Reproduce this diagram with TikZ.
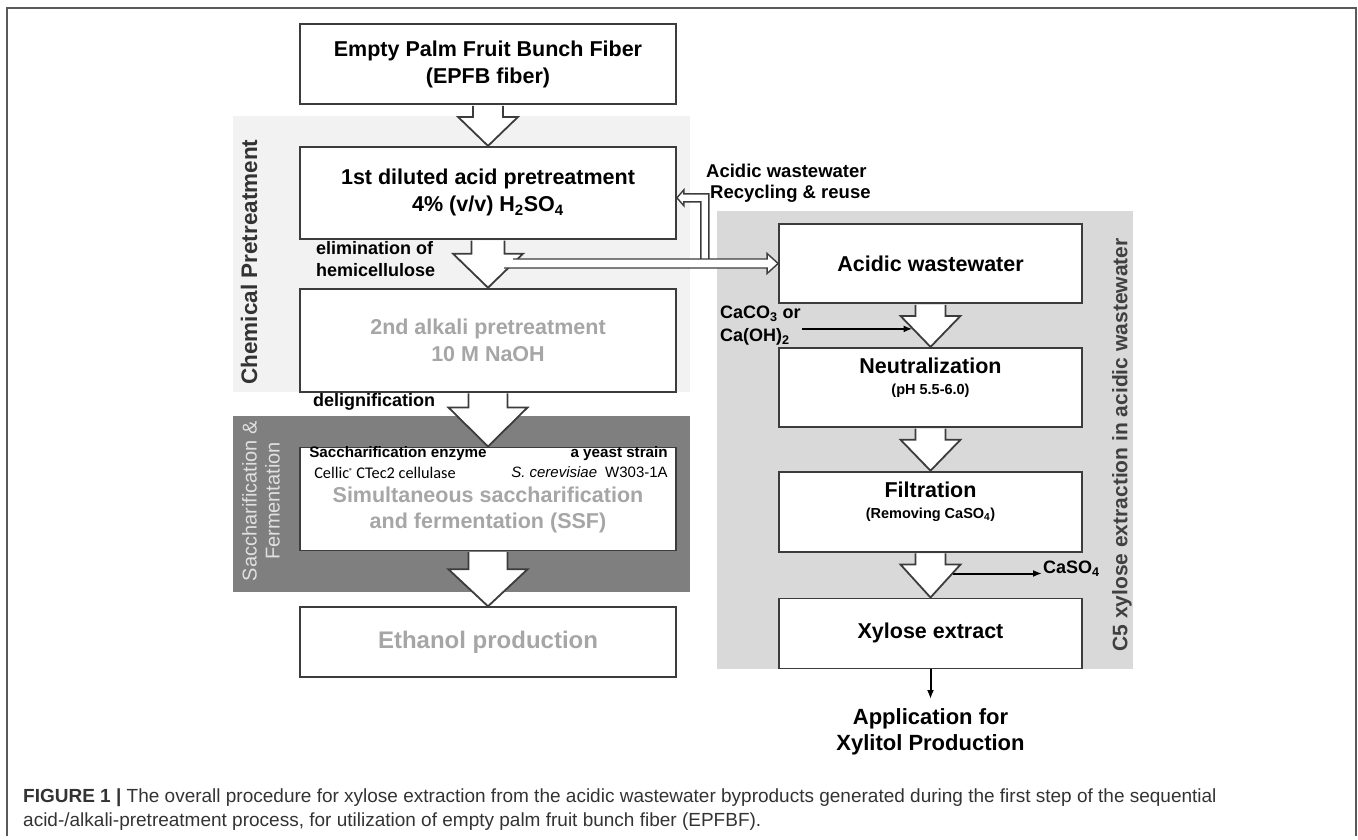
\documentclass[tikz,border=0pt]{standalone}
\usepackage{fontspec}
\setmainfont{Liberation Sans}
\newfontfamily\calib{Carlito}
\usetikzlibrary{positioning,calc,arrows.meta}

\definecolor{boxline}{HTML}{3C3C3C}
\definecolor{softgray}{HTML}{A6A6A6}
\definecolor{chemfill}{HTML}{F2F2F2}
\definecolor{ssffill}{HTML}{7F7F7F}
\definecolor{cfivefill}{HTML}{D9D9D9}
\definecolor{framec}{HTML}{5A5A5A}
\definecolor{captc}{HTML}{333333}

% hollow block arrow: from, to, shaft half width, head half width, head length
\newcommand{\blockarrow}[5]{%
  \draw[hollow] let \p1=(#1.south), \p2=(#2.north) in
    (\x1-#3,\y1-0.9pt) -- (\x1-#3,\y2+#5) -- (\x1-#4,\y2+#5) -- (\x1,\y2)
    -- (\x1+#4,\y2+#5) -- (\x1+#3,\y2+#5) -- (\x1+#3,\y1-0.9pt);}

\begin{document}
\begin{tikzpicture}[
                    x=1pt, y=-1pt,
                    box/.style={
                        draw=boxline,
                        line width=1.8pt,
                        fill=white,
                        minimum width=376pt,
                        align=center,
                        inner sep=2pt,
                        font=\bfseries\fontsize{21.5}{27}\selectfont
                    },
                    rbox/.style={box, minimum width=303pt},
                    hollow/.style={draw=boxline, line width=1.8pt, fill=white, line join=miter},
                    blackarr/.style={-{Latex[length=9pt,width=7pt]}, line width=2pt},
                    lab/.style={inner sep=1pt, font=\bfseries\fontsize{18}{22}\selectfont}
                ]
                    \useasboundingbox (0,0) rectangle (1358,839);
                    \draw[framec, line width=1.6pt] (7,836) -- (7,8) -- (1356,8) -- (1356,836);

                    % Bands
                    \fill[chemfill] (233,116) rectangle (690,392);
                    \fill[ssffill] (233,416) rectangle (690,592);
                    \fill[cfivefill] (717,211) rectangle (1133,669);
                    \node[rotate=90, inner sep=0, text=black!80, font=\bfseries\fontsize{22.5}{26}\selectfont] (chemlab) at (249,262) {Chemical Pretreatment};
                    \node[rotate=90, inner sep=0, align=center, text=black!12, font=\fontsize{20}{23}\selectfont] (ssflab) at (261,501) {Saccharification \&\\Fermentation};
                    \node[rotate=90, inner sep=0, text=black!75, font=\bfseries\fontsize{21}{25}\selectfont] (cfivelab) at (1122,445) {C5 xylose extraction in acidic wastewater};

                    % Left column
                    \node[box, minimum height=80pt] (epfb) at (488,64) {Empty Palm Fruit Bunch Fiber\\(EPFB fiber)};
                    \node[box, minimum height=92pt, below=41pt of epfb] (acid) {1st diluted acid pretreatment\\4\% (v/v) H\textsubscript{2}SO\textsubscript{4}};
                    \node[box, minimum height=103pt, below=48pt of acid, text=softgray] (alk) {2nd alkali pretreatment\\10 M NaOH};
                    \node[box, minimum height=103pt, below=54pt of alk] (ssf) {};
                    \node[box, minimum height=70pt, below=55pt of ssf, text=softgray, font=\bfseries\fontsize{24}{28}\selectfont] (eth) {Ethanol production};

                    \node[anchor=west, inner sep=0, font=\bfseries\fontsize{15.2}{18}\selectfont] (enz) at ($(ssf.north west)+(10,7.5)$) {Saccharification enzyme};
                    \node[anchor=east, inner sep=0, font=\bfseries\fontsize{15.2}{18}\selectfont] (yst) at ($(ssf.north east)+(-9,7.5)$) {a yeast strain};
                    \node[anchor=west, inner sep=0, font=\calib\fontsize{16.3}{19}\selectfont] (cel) at ($(ssf.north west)+(15,26)$) {Cellic\raisebox{5pt}{\fontsize{7}{7}\selectfont\textbf{®}} CTec2 cellulase};
                    \node[anchor=east, inner sep=0, font=\fontsize{15}{18}\selectfont] (scer) at ($(ssf.north east)+(-9,26)$) {\textit{S. cerevisiae}\hspace{8pt}W303-1A};
                    \node[align=center, inner sep=0, text=softgray, font=\bfseries\fontsize{21.5}{26}\selectfont] (ssftxt) at ($(ssf.center)+(0,11.5)$) {Simultaneous saccharification\\and fermentation (SSF)};

                    % Right column
                    \node[rbox, minimum height=79pt] (ww) at (930.5,263.5) {Acidic wastewater};
                    \node[rbox, minimum height=79pt, below=43pt of ww] (neut) {Neutralization\\[-6pt]{\fontsize{14.5}{17}\selectfont (pH 5.5-6.0)}\\[-4pt]};
                    \node[rbox, minimum height=80pt, below=43pt of neut] (filt) {Filtration\\[-6pt]{\fontsize{14.5}{17}\selectfont (Removing CaSO\textsubscript{4})}\\[-4pt]};
                    \node[rbox, minimum height=70pt, below=45pt of filt] (xyl) {Xylose extract};

                    % Side labels
                    \node[lab, anchor=west, align=left] (elim) at (315,259) {elimination of\\hemicellulose};
                    \node[lab, anchor=west] (delig) at (312,402) {delignification};
                    \node[lab, anchor=west, align=left, font=\bfseries\fontsize{18.5}{21}\selectfont] (recy) at (705,183.5) {Acidic wastewater\\\hspace{4pt}Recycling \& reuse};
                    \node[lab, anchor=west, align=left, font=\bfseries\fontsize{18}{23}\selectfont] (caco) at (719,326) {CaCO\textsubscript{3} or\\Ca(OH)\textsubscript{2}};
                    \node[lab, anchor=west] (caso) at (1042,569) {CaSO\textsubscript{4}};
                    \node[align=center, anchor=north, inner xsep=2pt, inner ysep=9pt, font=\bfseries\fontsize{22}{26}\selectfont] (app) at (930.5,699) {Application for\\Xylitol Production};

                    % Arrows
                    \blockarrow{epfb}{acid}{15pt}{30pt}{29pt}
                    \blockarrow{acid}{alk}{16.5pt}{35pt}{34pt}
                    \blockarrow{alk}{ssf}{19.5pt}{39.5pt}{39pt}
                    \blockarrow{ssf}{eth}{19.5pt}{39.5pt}{37pt}
                    \blockarrow{ww}{neut}{15pt}{30pt}{31pt}
                    \blockarrow{neut}{filt}{15pt}{30pt}{31pt}
                    \blockarrow{filt}{xyl}{15pt}{30pt}{33pt}

                    % Recycling
                    \draw[hollow, line width=1.4pt] let \p1=(acid.east), \p2=(ww.west) in
                        (\x2-265pt,\y2+4.5pt) -- (\x1+24pt,\y2+4.5pt) -- (\x1+24pt,\y1-9pt) -- (\x1+7pt,\y1-9pt)
                        -- (\x1+7pt,\y1-13pt) -- (\x1,\y1-5pt) -- (\x1+7pt,\y1+3pt) -- (\x1+7pt,\y1-1pt)
                        -- (\x1+32pt,\y1-1pt) -- (\x1+32pt,\y2+4.5pt) -- (\x2-11pt,\y2+4.5pt) -- (\x2-11pt,\y2+10pt)
                        -- (\x2,\y2) -- (\x2-11pt,\y2-10pt) -- (\x2-11pt,\y2-4.5pt) -- (\x2-274pt,\y2-4.5pt)
                        (\x1+24pt,\y2+4.5pt) -- (\x1+32pt,\y2+4.5pt);

                    \coordinate (cain) at ($(neut.north)+(-18,-18)$);
                    \coordinate (caout) at ($(xyl.north)+(22,-24)$);
                    \draw[blackarr] (caco.east |- cain) -- (cain);
                    \draw[blackarr] (caout) -- (caso.west |- caout);
                    \draw[blackarr] (xyl.south) -- (app.north);

                    % Caption
                    \node[anchor=base west, inner sep=0, text=captc, font=\fontsize{19}{22}\selectfont] (capa) at (23,802) {\textbf{FIGURE 1 |} The overall procedure for xylose extraction from the acidic wastewater byproducts generated during the first step of the sequential};
                    \node[anchor=base west, inner sep=0, text=captc, font=\fontsize{19}{22}\selectfont] (capb) at (23,826) {acid-/alkali-pretreatment process, for utilization of empty palm fruit bunch fiber (EPFBF).};
                \end{tikzpicture}
\end{document}
